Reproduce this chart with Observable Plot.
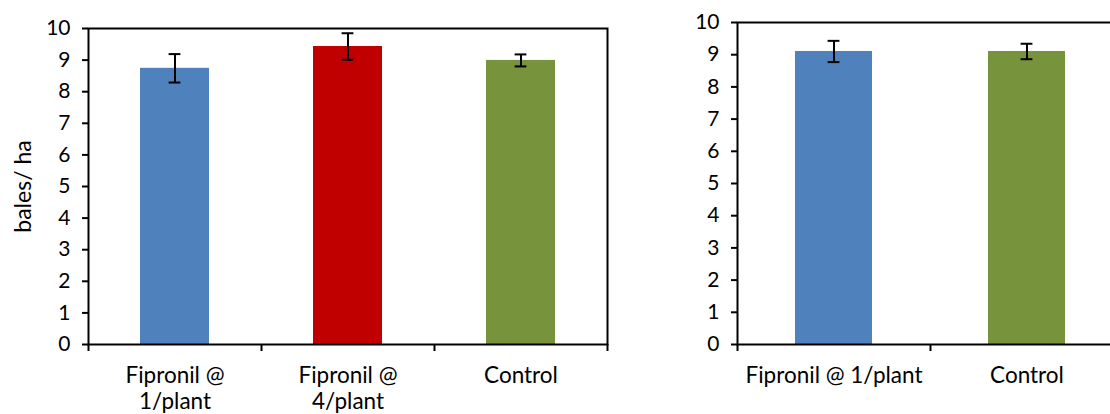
<!DOCTYPE html>
<html>
<head>
<meta charset="utf-8">
<script src="https://cdn.jsdelivr.net/npm/d3@7"></script>
<script src="https://cdn.jsdelivr.net/npm/@observablehq/plot@0.6"></script>
<style>
  html, body { margin: 0; padding: 0; background: #fff; overflow: hidden; }
  #wrap { position: relative; width: 1110px; height: 414px; overflow: hidden; }
  #left, #right { position: absolute; top: 0; }
  #left { left: 0; width: 620px; }
  #right { left: 650px; width: 473px; }
  #wrap svg { font-family: Lato, "Open Sans", sans-serif; overflow: visible; max-width: none !important; }
  #wrap svg text { fill: #000; }
</style>
</head>
<body>
<div id="wrap"><div id="left"></div><div id="right"></div></div>
<script>
// Left panel
const leftCategories = ["Fipronil @\n1/plant", "Fipronil @\n4/plant", "Control"];
const leftValues = [8.74, 9.43, 8.99];
const leftErrors = [0.45, 0.42, 0.19];
// Right panel
const rightCategories = ["Fipronil @ 1/plant", "Control"];
const rightValues = [9.1, 9.1];
const rightErrors = [0.33, 0.24];
const yTicks = [0, 1, 2, 3, 4, 5, 6, 7, 8, 9, 10];
const yLabel = "bales/ ha";

const BLUE = "#4F81BD", RED = "#C00000", GREEN = "#77933C";

function panel({cats, vals, errs, colors, width, marginLeft, marginRight, marginTop, label}) {
  const data = cats.map((c, i) => ({cat: c, v: vals[i], e: errs[i]}));
  const plotW = width - marginLeft - marginRight;
  const step = plotW / cats.length;
  const bw = step * 0.4;
  const capInset = (bw - 12) / 2;
  const height = 414;
  return Plot.plot({
    width, height, marginLeft, marginRight, marginTop, marginBottom: 70,
    style: {fontSize: "21px", color: "#000", background: "transparent"},
    x: {domain: cats, paddingInner: 0.6, paddingOuter: 0.3},
    y: {domain: [0, 10]},
    color: {domain: cats, range: colors},
    marks: [
      Plot.barY(data, {x: "cat", y: "v", fill: "cat"}),
      Plot.ruleX(data, {x: "cat", y1: d => d.v - d.e, y2: d => d.v + d.e, stroke: "#000", strokeWidth: 2}),
      Plot.tickY(data, {x: "cat", y: d => d.v + d.e, stroke: "#000", strokeWidth: 2, insetLeft: capInset, insetRight: capInset}),
      Plot.tickY(data, {x: "cat", y: d => d.v - d.e, stroke: "#000", strokeWidth: 2, insetLeft: capInset, insetRight: capInset}),
      Plot.frame({stroke: "#000", strokeWidth: 2}),
      Plot.axisY({ticks: yTicks, tickSize: 6, tickPadding: 12, strokeWidth: 2, fontSize: 21, label: null}),
      label ? Plot.axisY({ticks: [], tickSize: 0, label, labelAnchor: "center", labelArrow: false, labelOffset: 74, fontSize: 23}) : null,
      Plot.axisX({tickSize: 0, tickPadding: 20, lineHeight: 1.16, label: null, fontSize: 22.5}),
      Plot.ruleX(cats, {x: d => d, y1: 0, y2: 0, dx: -step / 2, insetBottom: -7, stroke: "#000", strokeWidth: 2}),
      Plot.ruleX([cats[cats.length - 1]], {x: d => d, y1: 0, y2: 0, dx: step / 2, insetBottom: -7, stroke: "#000", strokeWidth: 2})
    ]
  });
}

document.getElementById("left").append(panel({
  cats: leftCategories, vals: leftValues, errs: leftErrors, colors: [BLUE, RED, GREEN],
  width: 620, marginLeft: 88, marginRight: 13, marginTop: 28, label: yLabel
}));
document.getElementById("right").append(panel({
  cats: rightCategories, vals: rightValues, errs: rightErrors, colors: [BLUE, GREEN],
  width: 473, marginLeft: 87, marginRight: 0, marginTop: 22, label: null
}));
</script>
</body>
</html>
